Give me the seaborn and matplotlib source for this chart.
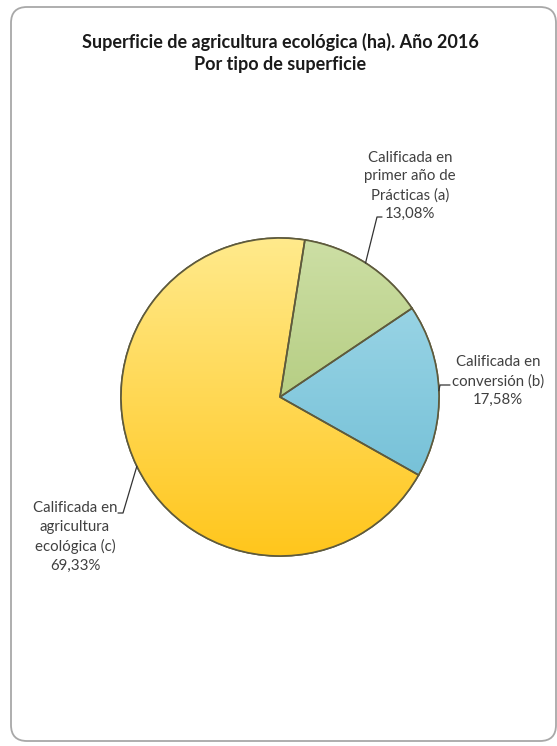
import matplotlib
matplotlib.use("Agg")
import matplotlib.pyplot as plt
from matplotlib.patches import FancyBboxPatch
from matplotlib.colors import LinearSegmentedColormap
import numpy as np
import seaborn as sns

# ---- data ----
categories = ["Calificada en\nprimer año de\nPrácticas (a)",
              "Calificada en\nconversión (b)",
              "Calificada en\nagricultura\necológica (c)"]
shares = [13.08, 17.58, 69.33]
share_labels = ["13,08%", "17,58%", "69,33%"]
colors = ["#b5cc82", "#82c7dc", "#ffd84a"]
grad_top = ["#cddfa5", "#a6dbea", "#ffea8c"]
grad_bottom = ["#9fbd62", "#67b9d2", "#ffc61c"]
title = "Superficie de agricultura ecológica (ha). Año 2016\nPor tipo de superficie"

sns.set_theme(style="white")
plt.rcParams['font.family'] = ['Lato', 'DejaVu Sans']

W, H = 557, 746
fig = plt.figure(figsize=(W / 100, H / 100), dpi=100)
ax = fig.add_axes([0, 0, 1, 1])

cx, cy, R = 280, H - 397, 159
wedges, _ = ax.pie(shares, colors=colors, startangle=81, counterclock=False,
                   center=(cx, cy), radius=R,
                   wedgeprops=dict(edgecolor="#5e5a3c", linewidth=1.2))
ax.set_xlim(0, W)
ax.set_ylim(0, H)
ax.set_aspect("equal")
ax.axis("off")

# vertical gradient fill clipped to each wedge
grad = np.linspace(1, 0, 256).reshape(-1, 1)
for w, c0, c1 in zip(wedges, grad_top, grad_bottom):
    cmap = LinearSegmentedColormap.from_list("g", [c1, c0])
    im = ax.imshow(grad, cmap=cmap, aspect="auto",
                   extent=(cx - R, cx + R, cy - R, cy + R), origin="upper",
                   zorder=w.get_zorder() + 0.1)
    im.set_clip_path(w)
    ax.add_patch(plt.matplotlib.patches.Wedge((cx, cy), R, w.theta1, w.theta2,
                                              facecolor="none", edgecolor="#5e5a3c",
                                              linewidth=1.2, zorder=w.get_zorder() + 0.2))
ax.set_xlim(0, W)
ax.set_ylim(0, H)

# frame
frame = FancyBboxPatch((11, H - 741), 545, 734, boxstyle="round,pad=0,rounding_size=16",
                       facecolor="none", edgecolor="#a8a8a8", linewidth=1.3,
                       transform=ax.transData, zorder=0)
ax.add_patch(frame)

ax.text(280, H - 53, title, ha="center", va="center", fontsize=13,
        fontweight="bold", color="#1a1a1a", linespacing=1.4)

# label placements (image pixel coords): text center, leader start points
label_pos = [(410, 186), (498, 381), (75, 537)]
leader_pts = [[(382, 217), (377, 217)], [(450, 385), (440, 385)], [(118, 513), (123, 513)]]

for w, cat, pl, (tx, ty), lp in zip(wedges, categories, share_labels, label_pos, leader_pts):
    ax.text(tx, H - ty, cat + "\n" + pl, ha="center", va="center", fontsize=10.8,
            color="#404040", linespacing=1.42)
    mid = np.deg2rad((w.theta1 + w.theta2) / 2)
    ex, ey = cx + R * np.cos(mid), cy + R * np.sin(mid)
    xs = [p[0] for p in lp] + [ex]
    ys = [H - p[1] for p in lp] + [ey]
    ax.plot(xs, ys, color="#333333", linewidth=0.9, zorder=5)

fig.savefig("out.png", dpi=100, facecolor="white")
